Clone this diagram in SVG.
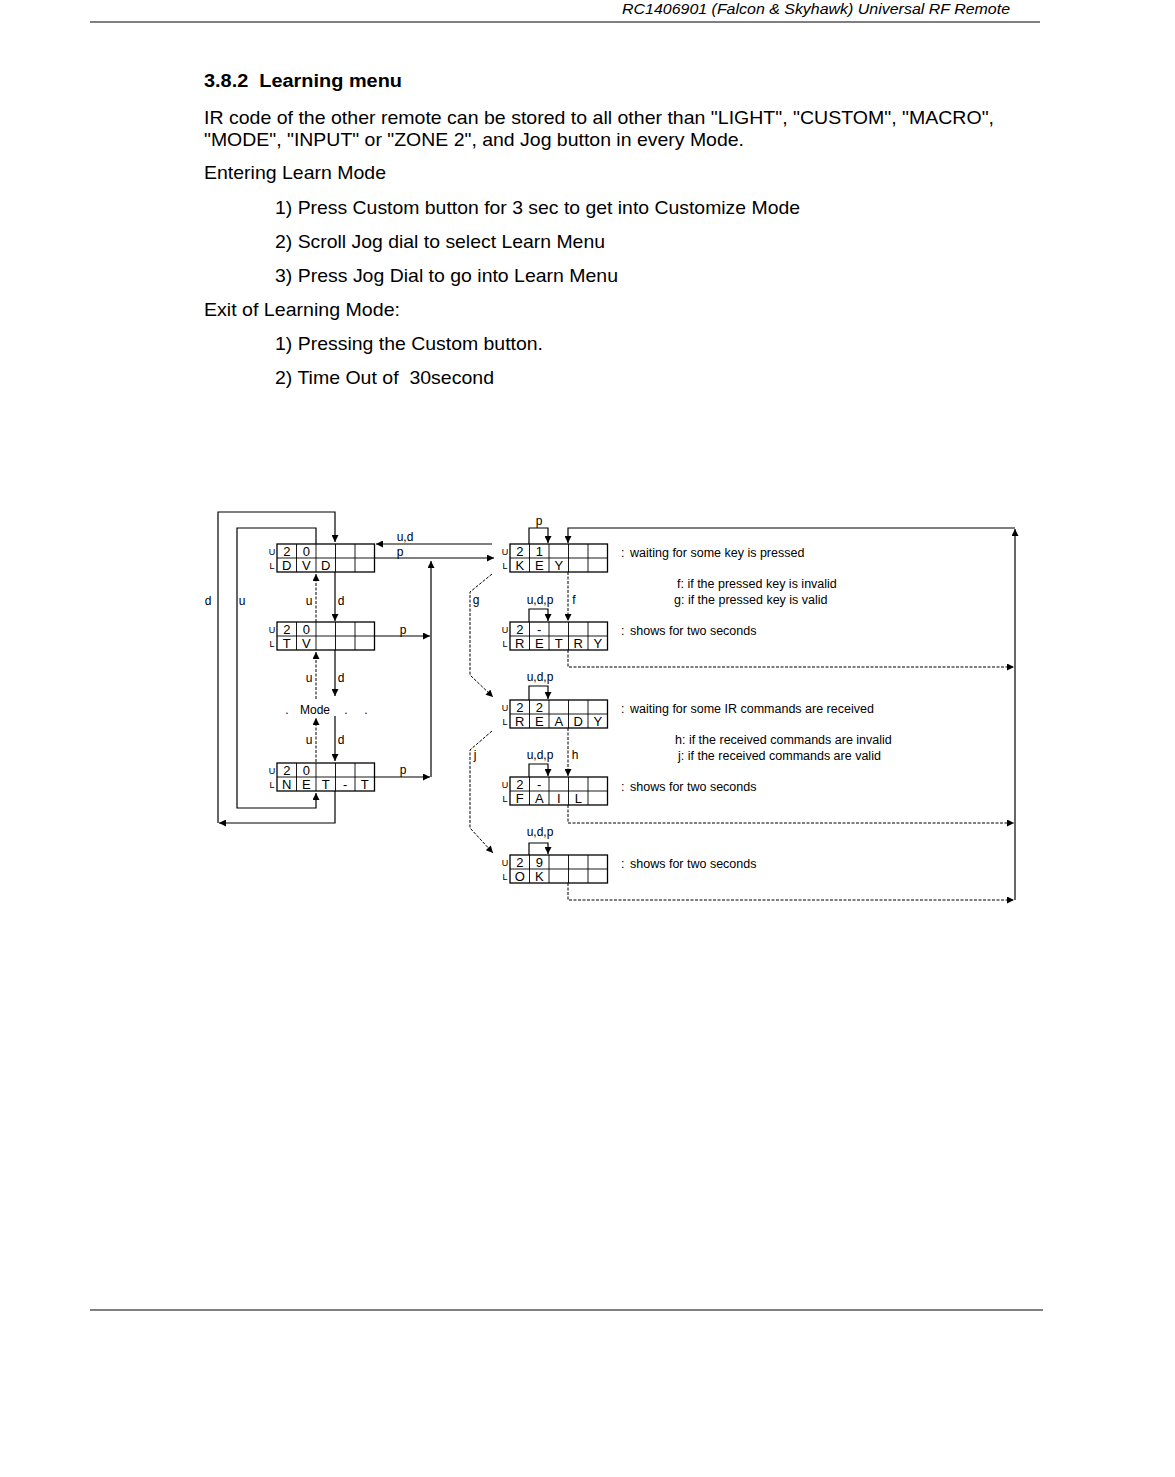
<svg xmlns="http://www.w3.org/2000/svg" width="1175" height="1477" viewBox="0 0 1175 1477">
<defs>
<marker id="ah" viewBox="0 0 10 10" refX="10" refY="5" markerWidth="8" markerHeight="7" markerUnits="userSpaceOnUse" orient="auto">
<path d="M0,0 L10,5 L0,10 z" fill="#000"/>
</marker>
<style>
.t{font-family:"Liberation Sans",Arial,sans-serif;fill:#000}
.body{font-size:19px}
.cell{font-size:13px;text-anchor:middle}
.ul{font-size:9px;text-anchor:middle}
.lblc{font-size:12px;text-anchor:middle}
.desc{font-size:12.5px}
.box{fill:none;stroke:#000;stroke-width:1.3}
.div{stroke:#000;stroke-width:0.9}
.c{fill:none;stroke:#000;stroke-width:1.2}
.cd{fill:none;stroke:#000;stroke-width:1;stroke-dasharray:3 1.5}
</style>
</defs>
<rect width="1175" height="1477" fill="#fff"/>

<g id="header">
<text class="t" x="1010" y="14" font-size="14" font-style="italic" text-anchor="end" textLength="388" lengthAdjust="spacingAndGlyphs">RC1406901 (Falcon &amp; Skyhawk) Universal RF Remote</text>
<line x1="90" y1="22" x2="1040" y2="22" stroke="#000" stroke-width="1"/>
<line x1="90" y1="1310" x2="1043" y2="1310" stroke="#000" stroke-width="1"/>
</g>

<g id="text-block">
<text class="t" x="204" y="87" font-size="18" font-weight="bold" textLength="198" lengthAdjust="spacingAndGlyphs" xml:space="preserve">3.8.2  Learning menu</text>
<text class="t body" x="204" y="124" textLength="790" lengthAdjust="spacingAndGlyphs">IR code of the other remote can be stored to all other than "LIGHT", "CUSTOM", "MACRO",</text>
<text class="t body" x="204" y="146" textLength="540" lengthAdjust="spacingAndGlyphs">"MODE", "INPUT" or "ZONE 2", and Jog button in every Mode.</text>
<text class="t body" x="204" y="179" textLength="182" lengthAdjust="spacingAndGlyphs">Entering Learn Mode</text>
<text class="t body" x="275" y="214" textLength="525" lengthAdjust="spacingAndGlyphs">1) Press Custom button for 3 sec to get into Customize Mode</text>
<text class="t body" x="275" y="248" textLength="330" lengthAdjust="spacingAndGlyphs">2) Scroll Jog dial to select Learn Menu</text>
<text class="t body" x="275" y="282" textLength="343" lengthAdjust="spacingAndGlyphs">3) Press Jog Dial to go into Learn Menu</text>
<text class="t body" x="204" y="316" textLength="196" lengthAdjust="spacingAndGlyphs">Exit of Learning Mode:</text>
<text class="t body" x="275" y="350" textLength="268" lengthAdjust="spacingAndGlyphs">1) Pressing the Custom button.</text>
<text class="t body" x="275" y="384" textLength="219" lengthAdjust="spacingAndGlyphs" xml:space="preserve">2) Time Out of  30second</text>
</g>

<g id="connectors">
<path class="c" d="M335,791 V823 H219" marker-end="url(#ah)"/>
<path class="c" d="M218,823 V512 H335 V542" marker-end="url(#ah)"/>
<path class="c" d="M316,544 V528 H237 V808 H316 V793" marker-end="url(#ah)"/>
<path class="c" d="M335,572 V621" marker-end="url(#ah)" stroke-width="1.6"/>
<path class="cd" d="M316,622 V574" marker-end="url(#ah)"/>
<path class="c" d="M335,650 V696" marker-end="url(#ah)" stroke-width="1.6"/>
<path class="cd" d="M316,699 V652" marker-end="url(#ah)"/>
<path class="c" d="M335,716 V761" marker-end="url(#ah)" stroke-width="1.6"/>
<path class="cd" d="M316,762 V718" marker-end="url(#ah)"/>
<path class="c" d="M374,558 H494" marker-end="url(#ah)"/>
<path class="c" d="M492,544 H376" marker-end="url(#ah)"/>
<path class="c" d="M375,636 H430" marker-end="url(#ah)"/>
<path class="c" d="M375,777 H430" marker-end="url(#ah)"/>
<path class="c" d="M431,777 V561" marker-end="url(#ah)"/>
<path class="c" d="M529,544 V528 H548 V543" marker-end="url(#ah)"/>
<path class="c" d="M1015,900 V529" marker-end="url(#ah)"/>
<path class="c" d="M1015,528 H568 V543" marker-end="url(#ah)"/>
<path class="cd" d="M568,572 V621" marker-end="url(#ah)"/>
<path class="c" d="M529,622 V609 H548 V621" marker-end="url(#ah)"/>
<path class="cd" d="M568,650 V667 H1014" marker-end="url(#ah)"/>
<path class="cd" d="M492,574 L470,592 V675 L493,697" marker-end="url(#ah)"/>
<path class="c" d="M529,700 V686 H548 V699" marker-end="url(#ah)"/>
<path class="cd" d="M568,728 V776" marker-end="url(#ah)"/>
<path class="c" d="M529,777 V764 H548 V776" marker-end="url(#ah)"/>
<path class="cd" d="M568,805 V823 H1014" marker-end="url(#ah)"/>
<path class="cd" d="M492,731 L470,750 V828 L493,853" marker-end="url(#ah)"/>
<path class="c" d="M529,855 V843 H548 V854" marker-end="url(#ah)"/>
<path class="cd" d="M568,883 V900 H1014" marker-end="url(#ah)"/>
</g>

<g id="connector-labels">
<text class="t lblc" x="405" y="541">u,d</text>
<text class="t lblc" x="400" y="556">p</text>
<text class="t lblc" x="403" y="634">p</text>
<text class="t lblc" x="403" y="774">p</text>
<text class="t lblc" x="208" y="605">d</text>
<text class="t lblc" x="242" y="605">u</text>
<text class="t lblc" x="309" y="605">u</text>
<text class="t lblc" x="341" y="605">d</text>
<text class="t lblc" x="309" y="682">u</text>
<text class="t lblc" x="341" y="682">d</text>
<text class="t lblc" x="309" y="744">u</text>
<text class="t lblc" x="341" y="744">d</text>
<text class="t lblc" x="539" y="525">p</text>
<text class="t lblc" x="476" y="604">g</text>
<text class="t lblc" x="540" y="604">u,d,p</text>
<text class="t lblc" x="574" y="604">f</text>
<text class="t lblc" x="540" y="681">u,d,p</text>
<text class="t lblc" x="475" y="759">j</text>
<text class="t lblc" x="540" y="759">u,d,p</text>
<text class="t lblc" x="575" y="759">h</text>
<text class="t lblc" x="540" y="836">u,d,p</text>
</g>

<g id="mode">
<text class="t" x="287" y="714" font-size="12" text-anchor="middle">.</text>
<text class="t" x="315" y="714" font-size="12" text-anchor="middle">Mode</text>
<text class="t" x="346" y="714" font-size="12" text-anchor="middle">.</text>
<text class="t" x="366" y="714" font-size="12" text-anchor="middle">.</text>
</g>

<g id="node-dvd">
<rect class="box" x="277" y="544" width="97.5" height="28"/>
<path class="div" d="M277,558 H374.5 M296.5,544 V572 M316,544 V572 M335.5,544 V572 M355,544 V572"/>
<text class="t ul" x="272" y="555">U</text><text class="t ul" x="272" y="569">L</text>
<text class="t cell" x="286.75" y="556">2</text><text class="t cell" x="306.25" y="556">0</text>
<text class="t cell" x="286.75" y="570">D</text><text class="t cell" x="306.25" y="570">V</text><text class="t cell" x="325.75" y="570">D</text>
</g>

<g id="node-tv">
<rect class="box" x="277" y="622" width="97.5" height="28"/>
<path class="div" d="M277,636 H374.5 M296.5,622 V650 M316,622 V650 M335.5,622 V650 M355,622 V650"/>
<text class="t ul" x="272" y="633">U</text><text class="t ul" x="272" y="647">L</text>
<text class="t cell" x="286.75" y="634">2</text><text class="t cell" x="306.25" y="634">0</text>
<text class="t cell" x="286.75" y="648">T</text><text class="t cell" x="306.25" y="648">V</text>
</g>

<g id="node-net">
<rect class="box" x="277" y="763" width="97.5" height="28"/>
<path class="div" d="M277,777 H374.5 M296.5,763 V791 M316,763 V791 M335.5,763 V791 M355,763 V791"/>
<text class="t ul" x="272" y="774">U</text><text class="t ul" x="272" y="788">L</text>
<text class="t cell" x="286.75" y="775">2</text><text class="t cell" x="306.25" y="775">0</text>
<text class="t cell" x="286.75" y="789">N</text><text class="t cell" x="306.25" y="789">E</text><text class="t cell" x="325.75" y="789">T</text><text class="t cell" x="345.25" y="789">-</text><text class="t cell" x="364.75" y="789">T</text>
</g>

<g id="node-key">
<rect class="box" x="510" y="544" width="97.5" height="28"/>
<path class="div" d="M510,558 H607.5 M529.5,544 V572 M549,544 V572 M568.5,544 V572 M588,544 V572"/>
<text class="t ul" x="505" y="555">U</text><text class="t ul" x="505" y="569">L</text>
<text class="t cell" x="519.75" y="556">2</text><text class="t cell" x="539.25" y="556">1</text>
<text class="t cell" x="519.75" y="570">K</text><text class="t cell" x="539.25" y="570">E</text><text class="t cell" x="558.75" y="570">Y</text>
<text class="t desc" x="621" y="557">:</text><text class="t desc" x="630" y="557">waiting for some key is pressed</text>
</g>

<g id="note-key">
<text class="t desc" x="677" y="588">f: if the pressed key is invalid</text>
<text class="t desc" x="674" y="604">g: if the pressed key is valid</text>
</g>

<g id="node-retry">
<rect class="box" x="510" y="622" width="97.5" height="28"/>
<path class="div" d="M510,636 H607.5 M529.5,622 V650 M549,622 V650 M568.5,622 V650 M588,622 V650"/>
<text class="t ul" x="505" y="633">U</text><text class="t ul" x="505" y="647">L</text>
<text class="t cell" x="519.75" y="634">2</text><text class="t cell" x="539.25" y="634">-</text>
<text class="t cell" x="519.75" y="648">R</text><text class="t cell" x="539.25" y="648">E</text><text class="t cell" x="558.75" y="648">T</text><text class="t cell" x="578.25" y="648">R</text><text class="t cell" x="597.75" y="648">Y</text>
<text class="t desc" x="621" y="635">:</text><text class="t desc" x="630" y="635">shows for two seconds</text>
</g>

<g id="node-ready">
<rect class="box" x="510" y="700" width="97.5" height="28"/>
<path class="div" d="M510,714 H607.5 M529.5,700 V728 M549,700 V728 M568.5,700 V728 M588,700 V728"/>
<text class="t ul" x="505" y="711">U</text><text class="t ul" x="505" y="725">L</text>
<text class="t cell" x="519.75" y="712">2</text><text class="t cell" x="539.25" y="712">2</text>
<text class="t cell" x="519.75" y="726">R</text><text class="t cell" x="539.25" y="726">E</text><text class="t cell" x="558.75" y="726">A</text><text class="t cell" x="578.25" y="726">D</text><text class="t cell" x="597.75" y="726">Y</text>
<text class="t desc" x="621" y="713">:</text><text class="t desc" x="630" y="713">waiting for some IR commands are received</text>
</g>

<g id="note-ready">
<text class="t desc" x="675" y="744">h: if the received commands are invalid</text>
<text class="t desc" x="678" y="760">j: if the received commands are valid</text>
</g>

<g id="node-fail">
<rect class="box" x="510" y="777" width="97.5" height="28"/>
<path class="div" d="M510,791 H607.5 M529.5,777 V805 M549,777 V805 M568.5,777 V805 M588,777 V805"/>
<text class="t ul" x="505" y="788">U</text><text class="t ul" x="505" y="802">L</text>
<text class="t cell" x="519.75" y="789">2</text><text class="t cell" x="539.25" y="789">-</text>
<text class="t cell" x="519.75" y="803">F</text><text class="t cell" x="539.25" y="803">A</text><text class="t cell" x="558.75" y="803">I</text><text class="t cell" x="578.25" y="803">L</text>
<text class="t desc" x="621" y="791">:</text><text class="t desc" x="630" y="791">shows for two seconds</text>
</g>

<g id="node-ok">
<rect class="box" x="510" y="855" width="97.5" height="28"/>
<path class="div" d="M510,869 H607.5 M529.5,855 V883 M549,855 V883 M568.5,855 V883 M588,855 V883"/>
<text class="t ul" x="505" y="866">U</text><text class="t ul" x="505" y="880">L</text>
<text class="t cell" x="519.75" y="867">2</text><text class="t cell" x="539.25" y="867">9</text>
<text class="t cell" x="519.75" y="881">O</text><text class="t cell" x="539.25" y="881">K</text>
<text class="t desc" x="621" y="868">:</text><text class="t desc" x="630" y="868">shows for two seconds</text>
</g>
</svg>
